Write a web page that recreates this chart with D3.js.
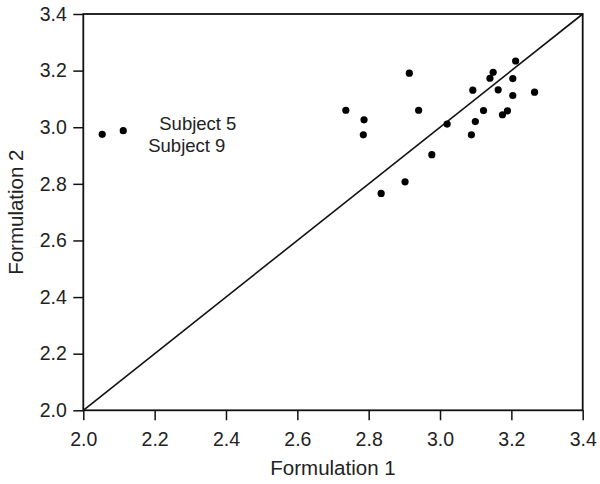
<!DOCTYPE html>
<html><head><meta charset="utf-8">
<script src="https://cdn.jsdelivr.net/npm/d3@7"></script>
<style>body{margin:0;background:#fff}svg{display:block}</style>
</head><body>
<svg id="c" width="600" height="484"></svg>
<script>
const subjects = ["S1","S2","S3","S4","S5","S6","S7","S8","S9","S10","S11","S12","S13","S14","S15","S16","S17","S18","S19","S20","S21","S22","S23","S24"];
const formulation1 = [2.053,2.112,2.736,2.787,2.785,2.914,2.940,3.020,2.977,2.902,2.835,3.092,3.122,3.099,3.088,3.140,3.149,3.163,3.204,3.212,3.204,3.265,3.175,3.189];
const formulation2 = [2.975,2.988,3.060,3.026,2.973,3.191,3.060,3.011,2.903,2.807,2.766,3.131,3.059,3.020,2.973,3.173,3.194,3.132,3.172,3.234,3.112,3.124,3.044,3.058];
const tickValues = [2.0,2.2,2.4,2.6,2.8,3.0,3.2,3.4];
const labels = [{text:"Subject 5", x:2.213, y:2.990},{text:"Subject 9", x:2.182, y:2.913}];
const xTitle = "Formulation 1", yTitle = "Formulation 2";

const W=600,H=484,m={l:83.3,r:17.3,t:14,b:73.7};
const svg=d3.select("#c");
const x=d3.scaleLinear().domain([2.0,3.4]).range([m.l,W-m.r]);
const y=d3.scaleLinear().domain([2.0,3.4]).range([H-m.b,m.t]);
const font="Liberation Sans, Arial, Helvetica, sans-serif";

const xa=svg.append("g").attr("transform",`translate(0,${H-m.b})`)
 .call(d3.axisBottom(x).tickValues(tickValues).tickFormat(d3.format(".1f")).tickSize(10).tickPadding(11.5));
const ya=svg.append("g").attr("transform",`translate(${m.l},0)`)
 .call(d3.axisLeft(y).tickValues(tickValues).tickFormat(d3.format(".1f")).tickSize(10).tickPadding(6.5));
[xa,ya].forEach(a=>{
 a.select(".domain").remove();
 a.selectAll(".tick line").attr("stroke","#111").attr("stroke-width",1.5);
 a.selectAll(".tick text").attr("fill","#222").style("font-family",font).style("font-size","19.5px");
});
// frame
svg.append("rect").attr("x",x(2.0)).attr("y",y(3.4)).attr("width",x(3.4)-x(2.0)).attr("height",y(2.0)-y(3.4))
 .attr("fill","none").attr("stroke","#111").attr("stroke-width",1.8);
// identity line
svg.append("line").attr("x1",x(2.0)).attr("y1",y(2.0)).attr("x2",x(3.4)).attr("y2",y(3.4))
 .attr("stroke","#111").attr("stroke-width",1.6);
// points
svg.append("g").selectAll("circle").data(subjects.map((s,i)=>({s,a:formulation1[i],b:formulation2[i]})))
 .join("circle").attr("cx",d=>x(d.a)).attr("cy",d=>y(d.b)).attr("r",3.6).attr("fill","#000");
// labels
svg.append("g").selectAll("text").data(labels).join("text")
 .attr("x",d=>x(d.x)).attr("y",d=>y(d.y)).text(d=>d.text)
 .attr("fill","#222").style("font-family",font).style("font-size","18.5px");
// titles
svg.append("text").attr("x",(x(2.0)+x(3.4))/2).attr("y",475).attr("text-anchor","middle")
 .text(xTitle).attr("fill","#222").style("font-family",font).style("font-size","20.5px");
svg.append("text").attr("transform",`translate(23,${(y(2.0)+y(3.4))/2}) rotate(-90)`).attr("text-anchor","middle")
 .text(yTitle).attr("fill","#222").style("font-family",font).style("font-size","20.5px");
</script>
</body></html>
